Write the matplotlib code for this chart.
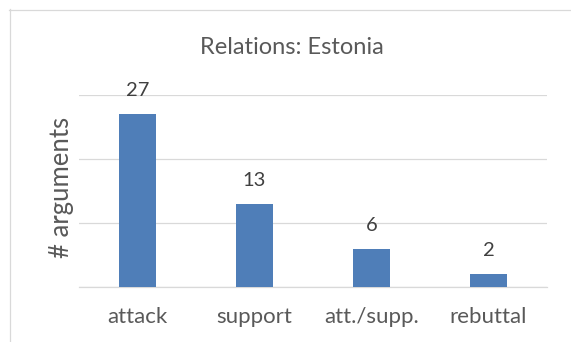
import matplotlib.pyplot as plt
from matplotlib.lines import Line2D

categories = ["attack", "support", "att./supp.", "rebuttal"]
counts = [27, 13, 6, 2]

plt.rcParams['font.family'] = ['Lato', 'DejaVu Sans']

fig = plt.figure(figsize=(5.71, 3.42), dpi=100)
ax = fig.add_axes([79 / 571, 1 - 287 / 342, 468 / 571, 192 / 342])

x = range(len(categories))
bars = ax.bar(x, counts, width=0.316, color='#4f7eb8', zorder=3)

# value labels above each bar
for b, v in zip(bars, counts):
    ax.annotate(str(v), (b.get_x() + b.get_width() / 2, v),
                xytext=(0, 13), textcoords='offset points',
                ha='center', va='baseline', fontsize=14.5, color='#404040')

ax.set_xlim(-0.5, 3.5)
ax.set_ylim(0, 30)
ax.set_yticks([0, 10, 20, 30])
ax.yaxis.grid(True, color='#d9d9d9', linewidth=0.9, zorder=0)
ax.tick_params(axis='y', left=False, labelleft=False)
ax.tick_params(axis='x', bottom=False, labelsize=16, labelcolor='#595959', pad=11)
ax.set_xticks(list(x))
ax.set_xticklabels(categories)
for s in ['left', 'right', 'top']:
    ax.spines[s].set_visible(False)
ax.spines['bottom'].set_color('#d9d9d9')
ax.spines['bottom'].set_linewidth(0.9)

ax.set_ylabel("# arguments", fontsize=18.5, color='#595959', va='center')
ax.yaxis.set_label_coords(-0.038, 0.52)
fig.text(292 / 571, 1 - 54 / 342, "Relations: Estonia", ha='center', va='baseline',
         fontsize=17, color='#595959')

# chart frame (left and top edges)
fig.add_artist(Line2D([9.5 / 571, 9.5 / 571], [0, 1 - 9 / 342],
                      transform=fig.transFigure, color='#d9d9d9', lw=0.9))
fig.add_artist(Line2D([9 / 571, 1], [1 - 9.5 / 342, 1 - 9.5 / 342],
                      transform=fig.transFigure, color='#d9d9d9', lw=0.9))

fig.savefig("out.png", dpi=100)
